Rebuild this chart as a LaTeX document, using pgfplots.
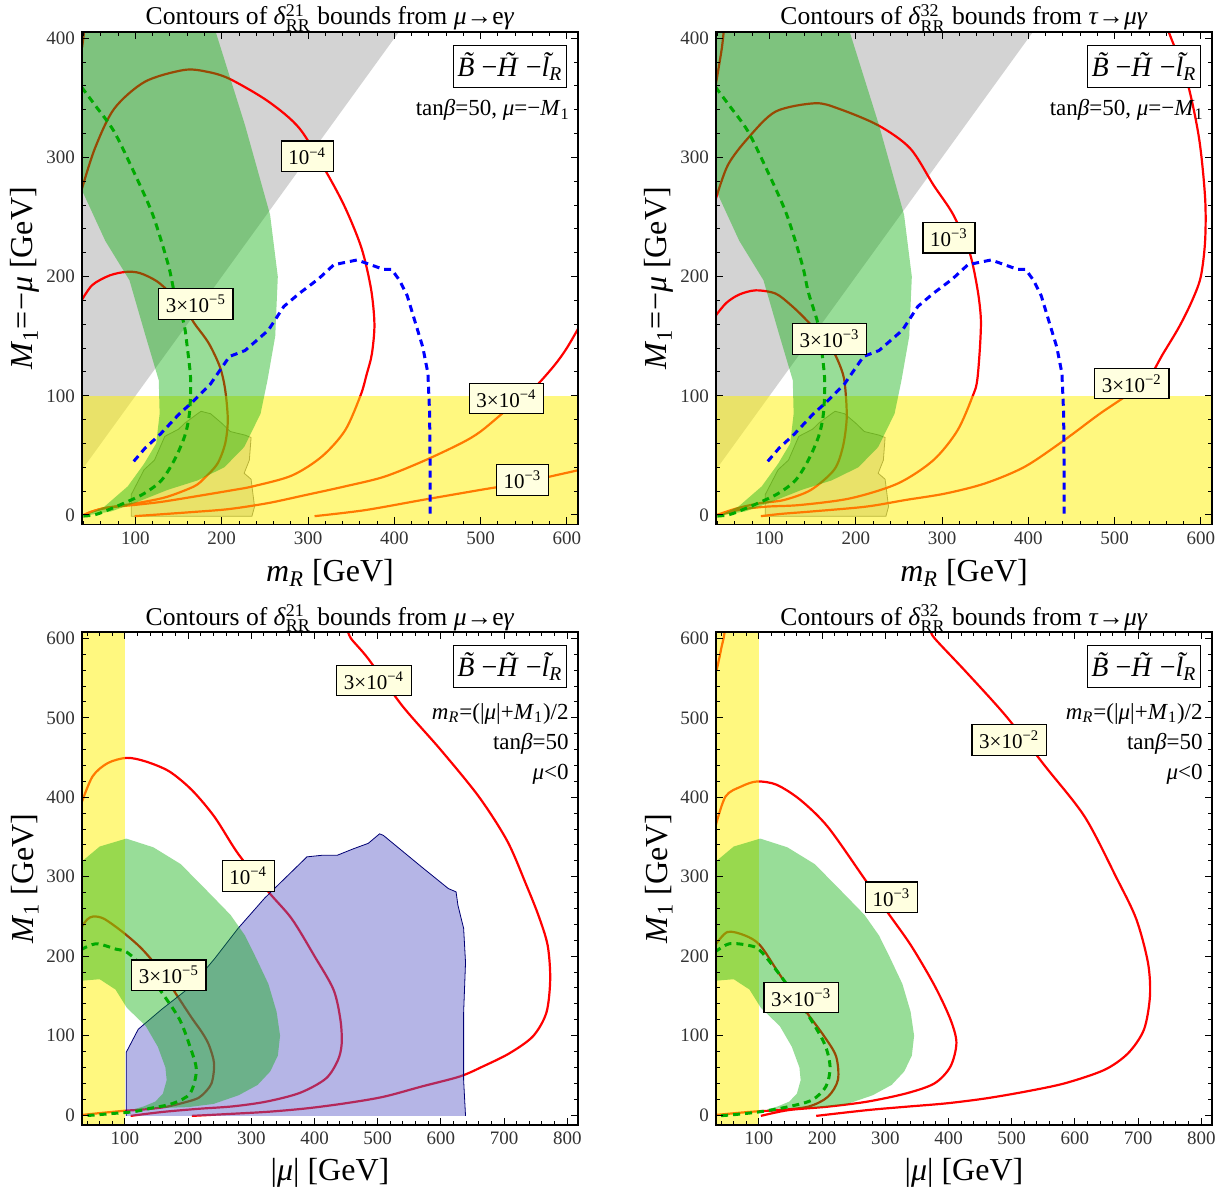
\documentclass[border=0pt]{standalone}
\usepackage{fontspec}
\setmainfont{Liberation Serif}
\usepackage{amsmath}
\usepackage{pgfplots}
\usepackage{pgfplotstable}
\pgfplotsset{compat=1.18}

\definecolor{greyc}{RGB}{211,211,211}
\definecolor{greenc}{RGB}{10,174,10}
\definecolor{bluer}{RGB}{90,90,200}
\definecolor{labfill}{RGB}{255,255,224}
\definecolor{dgreen}{RGB}{0,170,0}
\definecolor{redc}{RGB}{255,0,0}
\newcommand{\fs}[1]{\fontsize{#1}{#1}\selectfont}

% shared shapes (top panels)
\pgfplotstableread{
x y
37 410
37 274
65 230
93 197
111 152
127 113
128 85
124 60
110 43
91 24
64 7
46 1
38 -1
72 3
99 10
137 21
172 29
203 40
226 57
245 85
253 113
262 150
265 200
256 252
227 327
191 410
}\greentop
\pgfplotstableread{
x y
95 -1
95 17
110 38
122 46
134 66
150 72
157 77
172 85
176 87
187 85
200 77
210 70
227 67
234 65
232 46
226 35
234 30
238 7
235 -1
}\blobtop
\pgfplotstableread{
x y
98 45
111 56
129 68
151 85
165 94
187 110
209 133
227 138
254 155
272 175
290 186
312 198
330 210
357 214
388 206
397 206
406 197
415 184
425 160
433 141
439 119
441 85
441.5 40
441.5 0
}\bluedash
\pgfplotstableread{
x y
37.5 359
53 344
75 322
98 288
120 252
138 210
145 187
156 161
160 141
164 113
162.5 85
157 66
145 46
130 29
110 18
87 10
64 3
52 0
38 -1
}\greendash
% bottom panels green crescent
\pgfplotstableread{
x y
30 318
60 338
102 348
145 337
188 316
218 292
245 270
267 252
290 226
308 197
327 165
340 130
345.5 100
342 75
330 55
310 38
280 25
240 14
200 10
160 9
130 8
113 7
130 11
148 17
160 27
166 44
164 60
152 86
133 112
103 135
85 158
60 171
30 169
}\greenbot
\pgfplotstableread{
x y
102 -1
102 79
121 108
158 133
206 163
242 197
279 235
321 273
339 287
388 325
412 327
436 327
461 335
485 342
503 354
509 352
570 312
612 285
624 281
627 264
636 235
639 192
636 129
636 44
639 -1
}\bluereg

\pgfplotsset{
  panel/.style={
    scale only axis, width=248pt,
    tick align=inside, major tick length=3.6pt, minor tick length=2pt,
    axis line style={line width=0.7pt},
    every tick/.append style={black, line width=0.5pt},
    tick label style={font=\fs{9.5}, text=black!80},
    /pgf/number format/assume math mode=true,
    clip mode=individual, axis on top,
    every axis title/.style={at={(axis description cs:0.5,1)}, anchor=base, yshift=3.5pt, font=\fs{12.8}},
    xlabel style={at={(axis description cs:0.5,-0.0975)}, anchor=center, font=\fs{16}},
    ylabel style={at={(axis description cs:-0.115,0.5)}, anchor=center, font=\fs{16}},
  },
  toppanel/.style={panel, height=246.25pt, xmin=38, xmax=613, ymin=-8, ymax=405.3,
    xtick={100,200,...,600}, ytick={0,100,...,400},
    minor xtick={40,60,...,600}, minor ytick={20,40,...,400}},
  botpanel/.style={panel, height=246.5pt, xmin=32, xmax=817, ymin=-12.5, ymax=608,
    xtick={100,200,...,800}, ytick={0,100,...,600},
    minor xtick={40,60,...,800}, minor ytick={20,40,...,600}},
  rc/.style={redc, line width=1.1pt, smooth, tension=0.5},
  dsh/.style={line width=1.5pt, dash pattern=on 3.5pt off 2.5pt},
}
\tikzset{
  lab/.style={draw, line width=0.6pt, fill=labfill, inner xsep=3.6pt, inner ysep=3.2pt, font=\fs{10.5}},
  leg/.style={draw, line width=0.6pt, fill=white, anchor=north east, minimum width=55.5pt, minimum height=21pt, inner sep=2pt, font=\fs{14}, xshift=-5.5pt, yshift=-6.5pt},
  info/.style={anchor=base east, font=\fs{11.5}, inner sep=0pt},
}
\newcommand{\tl}[1]{\textit{\accent"02DC #1}}
\newcommand{\legtext}{\tl{B} −\tl{H} −\tl{l}\textsubscript{\textit{R}}}

\begin{document}
\begin{tikzpicture}
\useasboundingbox (0,0) rectangle (614.5pt,-599pt);

% ---------------- top left
\begin{axis}[toppanel, at={(41pt,-16pt)}, anchor=north west,
  title={Contours of \textit{δ}$^{\text{21}}_{\text{RR}}$ bounds from \textit{μ}→e\textit{γ}},
  xlabel={\textit{m}\textsubscript{\textit{R}} [GeV]},
  ylabel={\textit{M}\textsubscript{1}=−\textit{μ} [GeV]}]
\addplot[fill=greyc, draw=none] coordinates {(30,30) (430,430) (30,430)} -- cycle;
\addplot[fill=greyc, draw=black!55, line width=0.4pt] table {\blobtop} -- cycle;
\addplot[rc] coordinates {(37.5,180) (50,193) (70,201) (89,204) (105,203) (125,196) (145,183) (160,170) (169,160) (185,144) (198,124) (204,105) (207,80) (204,60) (195,43) (180,31) (168,24) (137,15.3) (110,11) (85,8) (66,6) (50,3) (40,0)};
\addplot[rc] coordinates {(37.5,272.7) (53,307.7) (75.4,341) (111,363.6) (156,373.4) (182.6,372) (209,366) (254,347) (290,324.5) (321,288) (343,258) (362,224) (373,190) (377,160) (374,135) (368,118) (361,100.5) (343,71) (316,49) (281,33) (236,24) (214,21) (168,15.4) (130,11) (100,8.5) (66,6) (50,3) (40,0)};
\addplot[rc] coordinates {(99,-1) (167,2.5) (209,5) (254,10) (299,17) (343,24) (388,32) (433,45) (477,60) (500,70) (530,88) (560,105) (585,125) (600,140) (616,160)};
\addplot[rc] coordinates {(307.6,-1) (365.6,4) (432.6,12.6) (499.6,21) (544,26.5) (616,38)};
\addplot[rc] coordinates {(38,392) (39.5,400) (41,410)};
\addplot[fill=yellow, fill opacity=0.5, draw=none] coordinates {(0,-50) (700,-50) (700,100) (0,100)} -- cycle;
\addplot[fill=greenc, fill opacity=0.42, draw=none] table {\greentop} -- cycle;
\addplot[blue, dsh] table {\bluedash};
\addplot[dgreen, dsh, smooth] table {\greendash};
\node[lab] at (axis cs:299,301) {10\textsuperscript{−4}};
\node[lab] at (axis cs:170,177) {3×10\textsuperscript{−5}};
\node[lab] at (axis cs:530,97.7) {3×10\textsuperscript{−4}};
\node[lab] at (axis cs:548.5,29.4) {10\textsuperscript{−3}};
\node[leg] at (rel axis cs:1,1) {\legtext};
\node[info, xshift=-4pt, yshift=-42pt] at (rel axis cs:1,1) {tan\textit{β}=50, \textit{μ}=−\textit{M}\textsubscript{1}};
\end{axis}

% ---------------- top right
\begin{axis}[toppanel, at={(358pt,-16pt)}, anchor=north west,
  title={Contours of \textit{δ}$^{\text{32}}_{\text{RR}}$ bounds from \textit{τ}→\textit{μγ}},
  xlabel={\textit{m}\textsubscript{\textit{R}} [GeV]},
  ylabel={\textit{M}\textsubscript{1}=−\textit{μ} [GeV]}]
\addplot[fill=greyc, draw=none] coordinates {(30,30) (430,430) (30,430)} -- cycle;
\addplot[fill=greyc, draw=black!55, line width=0.4pt] table {\blobtop} -- cycle;
\addplot[rc] coordinates {(38,167.6) (50,178) (65,185) (84,188.5) (107,185.8) (125,176) (143.6,163) (171,141) (185,118.7) (188.5,100.6) (189.4,79.6) (185,57) (175,38) (148,21) (117,12.6) (90,10) (70,7) (55,4) (39,0)};
\addplot[rc] coordinates {(38,265.7) (51.8,293.7) (74.8,316) (107,338.5) (152.8,345.5) (180,341) (226,327) (263,307.7) (290,277) (313,252) (331.7,221) (341,190) (345,165) (344,141) (340.8,113) (336,100.6) (318,71) (290,46) (249,26.5) (194,14) (136,8.4) (97,7) (66,4.5) (42.7,0)};
\addplot[rc] coordinates {(561,410) (563,405) (584,364) (598,316) (605,266) (605,230) (600,200) (590,180) (575,158) (556,135) (538,113) (515,100.6) (483,85) (441.7,62.8) (396,40.5) (350,26.5) (304,18) (258,12.6) (212,7) (150,3) (115,1) (90,-1)};
\addplot[rc] coordinates {(37,358) (41,375) (45,393) (47.5,410)};
\addplot[fill=yellow, fill opacity=0.5, draw=none] coordinates {(0,-50) (700,-50) (700,100) (0,100)} -- cycle;
\addplot[fill=greenc, fill opacity=0.42, draw=none] table {\greentop} -- cycle;
\addplot[blue, dsh] table {\bluedash};
\addplot[dgreen, dsh, smooth] table {\greendash};
\node[lab] at (axis cs:308,232.7) {10\textsuperscript{−3}};
\node[lab] at (axis cs:169.6,147.6) {3×10\textsuperscript{−3}};
\node[lab] at (axis cs:520,110.3) {3×10\textsuperscript{−2}};
\node[leg] at (rel axis cs:1,1) {\legtext};
\node[info, xshift=-4pt, yshift=-42pt] at (rel axis cs:1,1) {tan\textit{β}=50, \textit{μ}=−\textit{M}\textsubscript{1}};
\end{axis}

% ---------------- bottom left
\begin{axis}[botpanel, at={(41pt,-316pt)}, anchor=north west,
  title={Contours of \textit{δ}$^{\text{21}}_{\text{RR}}$ bounds from \textit{μ}→e\textit{γ}},
  xlabel={|\textit{μ}| [GeV]},
  ylabel={\textit{M}\textsubscript{1} [GeV]}]
\addplot[rc] coordinates {(30,235) (40,246) (50,250) (67,247) (97,230) (127,209) (158,180) (182,151) (206,122) (222,104) (233,88) (241,65) (237,40) (222,25) (208,19) (166,10.5) (129,7) (100,5.5) (60,2.5) (30,0)};
\addplot[rc] coordinates {(30,390) (48.5,426) (72.7,443) (103,449.6) (133,445) (170,432.6) (206,409) (242,375) (279,329) (327,281) (364,247) (400,200) (430,158) (441,120) (443,90) (437,69) (418,46) (377,28) (324,17) (271,11) (218,8) (160,4) (109,-1)};
\addplot[rc] coordinates {(452,612) (457.6,600) (484.8,574.6) (539,515) (599.4,460) (660,400.8) (705,345) (735,290) (755,250) (769,213.5) (773,171) (767,129) (746,99.4) (709,78) (666.7,61.3) (630,48.6) (569.7,36) (509,23) (448.5,14.8) (388,8.5) (327,4.2) (266.7,1.5) (206,-1)};
\addplot[fill=yellow, fill opacity=0.5, draw=none] coordinates {(0,-50) (100,-50) (100,700) (0,700)} -- cycle;
\addplot[fill=bluer, fill opacity=0.45, draw=none] table {\bluereg} -- cycle;
\addplot[blue!45!black, line width=0.4pt] table {\bluereg};
\addplot[fill=greenc, fill opacity=0.42, draw=none] table {\greenbot} -- cycle;
\addplot[dgreen, dsh, smooth] coordinates {(30,208) (54.5,215.6) (85,209) (103,205) (130,185) (163,149) (187,119.5) (203,86) (213,56.6) (203,27.3) (176,14.7) (139.5,8.4) (113,4.2) (80,2) (50,0) (30,-1)};
\node[lab] at (axis cs:169.5,176) {3×10\textsuperscript{−5}};
\node[lab] at (axis cs:295,301) {10\textsuperscript{−4}};
\node[lab] at (axis cs:494,547) {3×10\textsuperscript{−4}};
\node[leg] at (rel axis cs:1,1) {\legtext};
\node[info, xshift=-4.5pt, yshift=-43.5pt] at (rel axis cs:1,1) {\textit{m}\textsubscript{\textit{R}}=(|\textit{μ}|+\textit{M}\textsubscript{1})/2};
\node[info, xshift=-4.5pt, yshift=-58.5pt] at (rel axis cs:1,1) {tan\textit{β}=50};
\node[info, xshift=-4.5pt, yshift=-73.5pt] at (rel axis cs:1,1) {\textit{μ}<0};
\end{axis}

% ---------------- bottom right
\begin{axis}[botpanel, at={(358pt,-316pt)}, anchor=north west,
  title={Contours of \textit{δ}$^{\text{32}}_{\text{RR}}$ bounds from \textit{τ}→\textit{μγ}},
  xlabel={|\textit{μ}| [GeV]},
  ylabel={\textit{M}\textsubscript{1} [GeV]}]
\addplot[rc] coordinates {(30,213) (50,230.4) (78,226) (102,213.5) (134,175.5) (172,133) (203,99.4) (222,74) (225,44.4) (209,23) (178,10.6) (128,6) (102,5) (70,3) (30,0)};
\addplot[rc] coordinates {(30,360) (46.9,400.8) (72,413.6) (97,419.9) (128,415.7) (165.6,396.6) (209,362.7) (265.6,299) (303,255.8) (340.6,213.5) (378,162.8) (403,120.5) (412.5,91) (403,61) (378,40) (334,27.5) (272,17) (209,10.6) (147,6.3) (103,-1)};
\addplot[rc] coordinates {(372,610) (378,600) (428,557.6) (490.6,502.5) (553,439) (615.6,375.4) (665.6,299) (697,247) (715.6,192) (718.8,150) (709.4,107.8) (684.4,78) (647,57) (584,40) (522,29.6) (459,21) (397,14.8) (334,10.6) (272,6.3) (190.6,-1)};
\addplot[rc] coordinates {(33,560) (38,578) (41,590) (44,600) (46,610)};
\addplot[fill=yellow, fill opacity=0.5, draw=none] coordinates {(0,-50) (100,-50) (100,700) (0,700)} -- cycle;
\addplot[fill=greenc, fill opacity=0.42, draw=none] table {\greenbot} -- cycle;
\addplot[dgreen, dsh, smooth] coordinates {(30,205) (53,215.6) (84,213.5) (102,207) (134,175.5) (172,133) (203,91) (212.5,61) (206,36) (184,19) (147,10.6) (102,4.2) (53,0) (30,-1)};
\node[lab] at (axis cs:496,472) {3×10\textsuperscript{−2}};
\node[lab] at (axis cs:309.5,274) {10\textsuperscript{−3}};
\node[lab] at (axis cs:166.7,148) {3×10\textsuperscript{−3}};
\node[leg] at (rel axis cs:1,1) {\legtext};
\node[info, xshift=-4.5pt, yshift=-43.5pt] at (rel axis cs:1,1) {\textit{m}\textsubscript{\textit{R}}=(|\textit{μ}|+\textit{M}\textsubscript{1})/2};
\node[info, xshift=-4.5pt, yshift=-58.5pt] at (rel axis cs:1,1) {tan\textit{β}=50};
\node[info, xshift=-4.5pt, yshift=-73.5pt] at (rel axis cs:1,1) {\textit{μ}<0};
\end{axis}
\end{tikzpicture}
\end{document}
